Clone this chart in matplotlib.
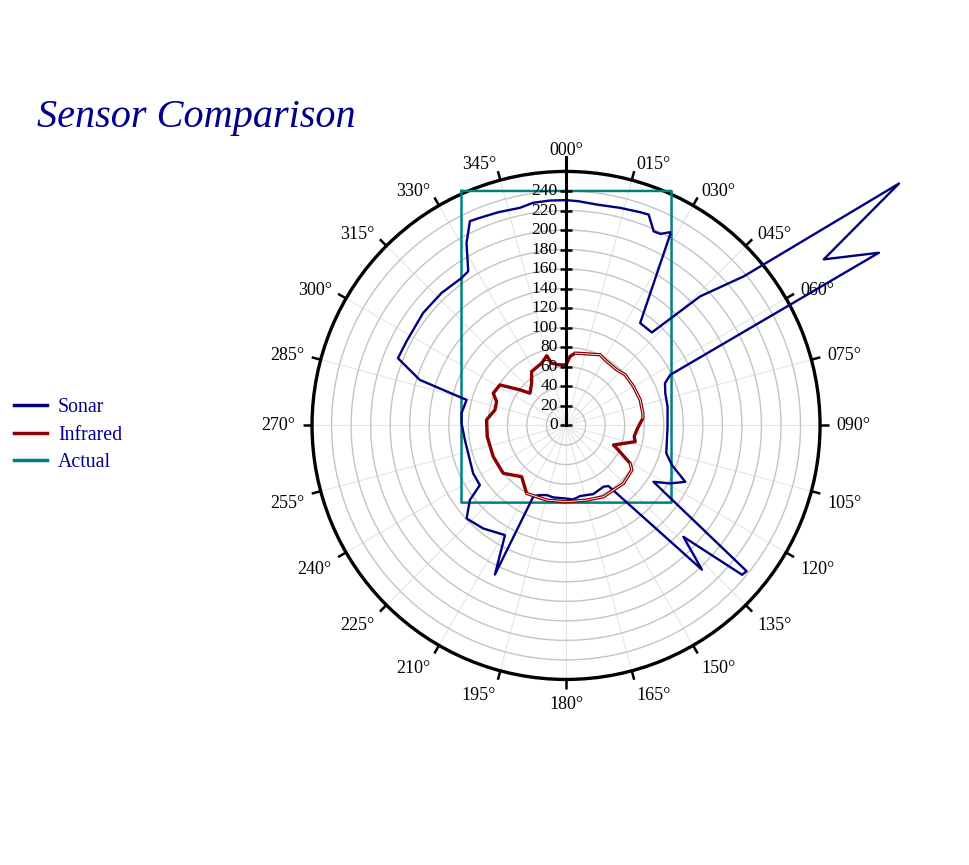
import numpy as np
import matplotlib
matplotlib.use('Agg')
import matplotlib.pyplot as plt
from matplotlib.lines import Line2D

plt.rcParams['font.family'] = ['Liberation Serif', 'DejaVu Serif']

# bearings (deg, clockwise from north) and ranges
sonar_deg = [0, 3.1, 7.9, 14.0, 19.2, 21.4, 24.3, 26.2, 28.3, 28.6, 35.9, 42.7,
             46.1, 50.0, 54.0, 57.2, 61.1, 64.1, 66.9, 72.0, 79.5, 90.7, 100.0,
             105.5, 110.5, 115.3, 119.1, 122.8, 123.3, 128.9, 130.3, 133.5,
             136.7, 145.0, 148.6, 158.3, 168.8, 174.3, 180.8, 190.0, 195.5,
             201.7, 204.7, 205.5, 209.1, 218.8, 226.9, 232.2, 235.3, 242.7,
             261.8, 271.2, 276.7, 284.4, 287.3, 291.8, 297.7, 308.2, 316.8,
             324.7, 327.6, 331.4, 334.8, 337.5, 342.4, 348.0, 351.6, 355.9]
sonar_rng = [230.6, 229.9, 228.3, 229.5, 231.1, 231.8, 218.0, 218.5, 224.7, 222.6,
             129.4, 129.5, 190.6, 237.4, 421.3, 313.8, 365.8, 118.6, 110.1, 106.8,
             105.7, 103.9, 104.7, 106.5, 115.7, 135.0, 122.0, 106.5, 111.3, 237.5,
             236.3, 165.6, 202.8, 75.7, 73.5, 75.6, 73.7, 76.1, 74.7, 74.8, 74.0,
             76.7, 80.4, 169.1, 128.5, 135.3, 139.4, 124.6, 107.3, 107.0, 104.6,
             107.0, 107.7, 105.1, 156.8, 185.3, 184.6, 186.2, 186.1, 185.0, 186.9,
             212.8, 231.1, 230.1, 229.0, 227.7, 230.4, 230.8]

ir_deg = [0, 3.3, 7.1, 16.1, 25.7, 32.5, 42.4, 49.4, 60, 71, 81, 84.7, 88.3,
          93.6, 99.3, 103.2, 112.4, 114.3, 120.6, 124.1, 135.3, 152.3, 164.5,
          180, 194.5, 210.1, 220.9, 232.7, 246.8, 261.9, 274, 282.3, 289, 293.9,
          301.5, 307.7, 311.8, 320.8, 327.5, 338.6, 344.5, 347, 352.8]
ir_rng = [62, 70.7, 74.6, 76.3, 80.3, 77.6, 77.1, 79.7, 79.7, 80.3, 79.6, 79.0,
          75.9, 72.6, 70.7, 72.7, 52.5, 57, 76.2, 81.4, 83.5, 82.4, 79.3, 78.1,
          78.9, 80.4, 69.4, 80.8, 81.1, 81.5, 81.6, 74.5, 75.2, 81.5, 79.4, 59.6,
          49.5, 55.8, 65.5, 68.5, 74, 65.4, 62.6]

# actual room outline: corners
actual_deg = [335.97, 24.23, 126.19, 233.56, 335.97]
actual_rng = [262.8, 263.2, 133.8, 133.0, 262.8]

ang_ticks = list(range(0, 360, 15))
ang_labels = ['%03d°' % a for a in ang_ticks]
r_ticks = list(range(0, 241, 20))

navy = '#000080'
fig = plt.figure(figsize=(9.69, 8.65), dpi=100)
ax = fig.add_axes([0.3220, 0.2145, 0.5243, 0.5873], projection='polar')
ax.set_theta_zero_location('N')
ax.set_theta_direction(-1)
ax.set_ylim(0, 260)
ax.set_yticks(r_ticks[1:])
ax.set_yticklabels([])
ax.yaxis.grid(True, color='#c4c4c4', lw=1)
ax.set_xticks(np.deg2rad(ang_ticks))
ax.set_xticklabels([])
ax.xaxis.grid(True, color='#e4e4e4', lw=0.8)
ax.tick_params(axis='both', length=0)
ax.spines['polar'].set_linewidth(2.4)

# compass ticks and labels
for a, lab in zip(ang_ticks, ang_labels):
    th = np.deg2rad(a)
    ax.plot([th, th], [260, 269.5], color='black', lw=1.8, clip_on=False,
            solid_capstyle='butt')
    s, c = np.sin(th), np.cos(th)
    ha = 'left' if s > 0.05 else ('right' if s < -0.05 else 'center')
    va = 'baseline' if c > 0.05 else ('top' if c < -0.05 else 'center')
    dy = -3.6 if (c > 0.05 and abs(s) > 0.05) else 0
    ax.annotate(lab, xy=(th, 277), xytext=(0, dy), textcoords='offset points',
                ha=ha, va=va, fontsize=13, annotation_clip=False)

# radial axis along 000
ax.plot([0, 0], [0, 275], color='black', lw=2.2, clip_on=False, zorder=5)
ax.plot(np.zeros(len(r_ticks)), r_ticks, ls='none', marker='_', ms=9, mew=1.8,
        color='black', clip_on=False, zorder=5)
for r in r_ticks:
    ax.annotate(str(r), xy=(0, r), xytext=(-6, 0), textcoords='offset points',
                ha='right', va='center', fontsize=12.5, zorder=6)

ax.plot(np.deg2rad(actual_deg), actual_rng, color='#008080', lw=1.8,
        clip_on=False, zorder=3)
ax.plot(np.deg2rad(sonar_deg + sonar_deg[:1]), sonar_rng + sonar_rng[:1],
        color=navy, lw=1.7, clip_on=False, zorder=4)
ax.plot(np.deg2rad(ir_deg + ir_deg[:1]), ir_rng + ir_rng[:1],
        color='#8B0000', lw=2.4, zorder=4)
# thin light stripe seen inside parts of the infrared trace
for a, b in [(2, 12), (18, 26)]:
    ax.plot(np.deg2rad(ir_deg[a:b]), ir_rng[a:b], color='white', lw=0.6, zorder=4)

fig.text(0.038, 0.853, 'Sensor Comparison', fontsize=29, style='italic',
         color='#00008B', va='baseline')

handles = [Line2D([], [], color=navy, lw=2.5),
           Line2D([], [], color='#8B0000', lw=2.5),
           Line2D([], [], color='#008080', lw=2.5)]
fig.legend(handles, ['Sonar', 'Infrared', 'Actual'], loc='center left',
           bbox_to_anchor=(0.0144, 0.497), frameon=False, fontsize=14.3,
           labelcolor='#00008B', handlelength=1.66, handletextpad=0.55,
           labelspacing=0.43, borderpad=0, borderaxespad=0)

fig.savefig('out.png', dpi=100)
